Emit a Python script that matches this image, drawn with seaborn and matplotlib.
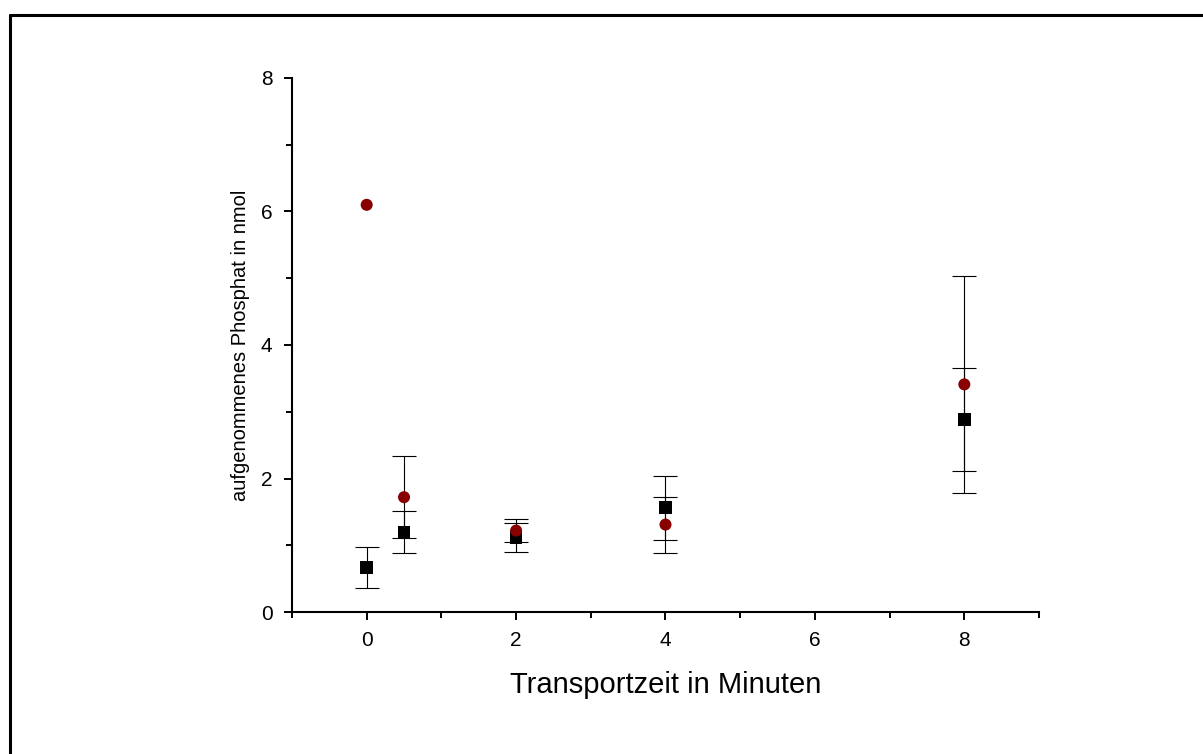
"""Phosphat-Aufnahme ueber die Transportzeit."""

import matplotlib
matplotlib.use("Agg")
import matplotlib.pyplot as plt
from matplotlib.lines import Line2D
from matplotlib.ticker import MultipleLocator
import pandas as pd
import seaborn as sns

zeit = [0, 0.5, 2, 4, 8]
schwarz_mw = [0.67, 1.20, 1.12, 1.56, 2.88]
schwarz_sd = [0.31, 0.31, 0.22, 0.48, 0.77]
rot_mw = [6.10, 1.72, 1.22, 1.31, 3.41]
rot_sd = [0.0, 0.61, 0.17, 0.42, 1.62]

df_s = pd.DataFrame({"zeit": zeit, "wert": schwarz_mw, "sd": schwarz_sd})
df_r = pd.DataFrame({"zeit": zeit, "wert": rot_mw, "sd": rot_sd})

sns.set_theme(style="ticks")
plt.rcParams["font.family"] = ["Liberation Sans", "DejaVu Sans"]
plt.rcParams["text.color"] = "black"
plt.rcParams["axes.labelcolor"] = "black"

fig = plt.figure(figsize=(12.03, 7.54), dpi=100)
ax = fig.add_axes([0.2427, 0.1883, 0.6210, 0.7083])

# Fehlerbalken
for d in (df_s, df_r):
    sub = d[d["sd"] > 0]
    ax.errorbar(sub["zeit"], sub["wert"], yerr=sub["sd"], fmt="none",
                ecolor="black", elinewidth=0.8, capsize=8.5, capthick=0.8, zorder=2)

sns.scatterplot(data=df_s, x="zeit", y="wert", marker="s", s=85, color="black",
                edgecolor="none", ax=ax, zorder=3)
sns.scatterplot(data=df_r, x="zeit", y="wert", marker="o", s=75, color="#880000",
                edgecolor="none", ax=ax, zorder=4)

ax.set_xlim(-1, 9)
ax.set_ylim(0, 8)
ax.xaxis.set_major_locator(MultipleLocator(2))
ax.xaxis.set_minor_locator(MultipleLocator(1))
ax.yaxis.set_major_locator(MultipleLocator(2))
ax.yaxis.set_minor_locator(MultipleLocator(1))
ax.tick_params(which="major", length=6, width=1.4, labelsize=15, color="black",
               labelcolor="black", pad=8)
ax.tick_params(which="minor", length=4, width=1.4, color="black")

sns.despine(ax=ax)
for sp in ("left", "bottom"):
    ax.spines[sp].set_linewidth(1.5)
    ax.spines[sp].set_color("black")

ax.set_xlabel("Transportzeit in Minuten", fontsize=21, labelpad=15, color="black")
ax.set_ylabel("aufgenommenes Phosphat in nmol", fontsize=14.5, labelpad=8,
              color="black")

# Rahmen (oben und links)
fig.add_artist(Line2D([10 / 1203, 1.0], [1 - 15 / 754, 1 - 15 / 754],
                      transform=fig.transFigure, color="black", linewidth=2.2))
fig.add_artist(Line2D([10 / 1203, 10 / 1203], [0.0, 1 - 15 / 754],
                      transform=fig.transFigure, color="black", linewidth=2.2))

fig.savefig("out.png", dpi=100, facecolor="white")
plt.close()
